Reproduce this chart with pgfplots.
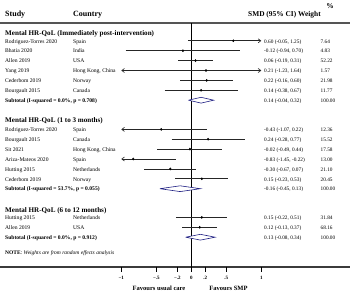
\documentclass[border=0pt]{standalone}
\usepackage{fontspec}
\setmainfont{Liberation Serif}
\usepackage{pgfplots}
\pgfplotsset{compat=1.18}
\usetikzlibrary{arrows.meta}
\definecolor{navy}{RGB}{30,30,130}
\definecolor{ruleg}{RGB}{85,85,85}

% estimates: y (pixel row), est
\pgfplotstableread{
y est
40.8 0.60
50.7 -0.12
60.6 0.06
70.5 0.21
80.4 0.22
90.3 0.14
129.4 -0.43
139.2 0.24
149.1 -0.02
159.0 -0.83
168.9 -0.30
178.8 0.15
217.4 0.15
227.3 0.12
}\estimates

\newcommand{\ci}[4][]{\addplot[ciline,#1] coordinates {(#3,#2) (#4,#2)};}
\newcommand{\dia}[4]{\addplot[navy, line width=0.6pt, fill=white, line join=miter] coordinates {(#2,#1) (#3,#1-2.9) (#4,#1) (#3,#1+2.9) (#2,#1)};}

\begin{document}
\begin{tikzpicture}
\begin{axis}[
 scale only axis, width=350pt, height=291pt,
 xmin=-2.7329, xmax=2.2671, ymin=0, ymax=291, y dir=reverse,
 hide axis, clip=false,
 ciline/.style={draw=black!85, line width=0.65pt},
]
% frame rules
\addplot[ruleg, line width=1.6pt] coordinates {(-2.7329,23.3) (2.2671,23.3)};
\addplot[ruleg!70!black, line width=1.6pt] coordinates {(-2.7329,266.7) (2.2671,266.7)};
% null line
\addplot[black, line width=0.8pt] coordinates {(0,23.3) (0,266.7)};
% ticks
\foreach \t in {-1,-0.5,-0.2,0,0.2,0.5,1}{
  \edef\temp{\noexpand\draw[black, line width=0.7pt] (axis cs:\t,266.7) -- (axis cs:\t,272.3);}
  \temp
}
% section 1
\ci[-{Straight Barb[length=2.6pt,width=4pt]}]{40.8}{-0.05}{1.0}
\ci{50.7}{-0.94}{0.70}
\ci{60.6}{-0.19}{0.31}
\ci[{Straight Barb[length=2.6pt,width=4pt]}-{Straight Barb[length=2.6pt,width=4pt]}]{70.5}{-1.0}{1.0}
\ci{80.4}{-0.16}{0.60}
\ci{90.3}{-0.38}{0.67}
\dia{100.2}{-0.04}{0.14}{0.32}
% section 2
\ci[{Straight Barb[length=2.6pt,width=4pt]}-]{129.4}{-1.0}{0.22}
\ci{139.2}{-0.28}{0.77}
\ci{149.1}{-0.49}{0.44}
\ci[{Straight Barb[length=2.6pt,width=4pt]}-]{159.0}{-1.0}{-0.22}
\ci{168.9}{-0.67}{0.07}
\ci{178.8}{-0.23}{0.53}
\dia{188.7}{-0.45}{-0.16}{0.13}
% section 3
\ci{217.4}{-0.22}{0.51}
\ci{227.3}{-0.13}{0.37}
\dia{237.2}{-0.08}{0.13}{0.34}
% point estimates
\addplot[only marks, mark=diamond*, mark size=1.1pt, black] table[x=est, y=y]{\estimates};
\end{axis}
\begin{scope}[x=1pt, y=-1pt, yshift=291pt,
  rt/.style={anchor=mid west, inner sep=0pt, font=\fontsize{5.6}{6}\selectfont},
  vt/.style={anchor=mid west, inner sep=0pt, font=\fontsize{5.3}{6}\selectfont},
  sub/.style={anchor=mid west, inner sep=0pt, font=\fontsize{5.6}{6}\selectfont\bfseries},
  sec/.style={anchor=mid west, inner sep=0pt, font=\fontsize{7.1}{8}\selectfont\bfseries},
  hd/.style={inner sep=0pt, font=\fontsize{8}{9}\selectfont\bfseries},
  tl/.style={anchor=mid, inner sep=0pt, font=\fontsize{5}{6}\selectfont\bfseries}]
\newcommand{\row}[5]{\node[rt] at (5,#1) {#2}; \node[rt] at (73,#1) {#3}; \node[vt] at (264,#1) {#4}; \node[vt] at (320.5,#1) {#5};}
% header
\node[hd, anchor=mid west] at (5,14) {Study};
\node[hd, anchor=mid west] at (73,14) {Country};
\node[inner sep=0pt, anchor=mid, font=\fontsize{7.4}{8}\selectfont\bfseries] at (330,6) {\%};
\node[inner sep=0pt, anchor=mid west, font=\fontsize{7.4}{8}\selectfont\bfseries] at (248,14) {SMD (95\% CI) Weight};
% section 1
\node[sec] at (5,33) {Mental HR-QoL (Immediately post-intervention)};
\row{40.8}{Rodriguez-Torres 2020}{Spain}{0.60 (-0.05, 1.25)}{7.64}
\row{50.7}{Bhatia 2020}{India}{-0.12 (-0.94, 0.70)}{4.83}
\row{60.6}{Allen 2019}{USA}{0.06 (-0.19, 0.31)}{52.22}
\row{70.5}{Yang 2019}{Hong Kong, China}{0.21 (-1.23, 1.64)}{1.57}
\row{80.4}{Cederbom 2019}{Norway}{0.22 (-0.16, 0.60)}{21.98}
\row{90.3}{Bourgault 2015}{Canada}{0.14 (-0.38, 0.67)}{11.77}
\node[sub] at (5,100.2) {Subtotal (I-squared = 0.0\%, p = 0.708)};
\node[vt] at (264,100.2) {0.14 (-0.04, 0.32)};
\node[vt] at (320.5,100.2) {100.00};
% section 2
\node[sec] at (5,120.7) {Mental HR-QoL (1 to 3 months)};
\row{129.4}{Rodriguez-Torres 2020}{Spain}{-0.43 (-1.07, 0.22)}{12.36}
\row{139.2}{Bourgault 2015}{Canada}{0.24 (-0.28, 0.77)}{15.52}
\row{149.1}{Sit 2021}{Hong Kong, China}{-0.02 (-0.49, 0.44)}{17.58}
\row{159.0}{Ariza-Mateos 2020}{Spain}{-0.83 (-1.45, -0.22)}{13.00}
\row{168.9}{Hutting 2015}{Netherlands}{-0.30 (-0.67, 0.07)}{21.10}
\row{178.8}{Cederbom 2019}{Norway}{0.15 (-0.23, 0.53)}{20.45}
\node[sub] at (5,188.7) {Subtotal (I-squared = 53.7\%, p = 0.055)};
\node[vt] at (264,188.7) {-0.16 (-0.45, 0.13)};
\node[vt] at (320.5,188.7) {100.00};
% section 3
\node[sec] at (5,210) {Mental HR-QoL (6 to 12 months)};
\row{217.4}{Hutting 2015}{Netherlands}{0.15 (-0.22, 0.51)}{31.84}
\row{227.3}{Allen 2019}{USA}{0.12 (-0.13, 0.37)}{68.16}
\node[sub] at (5,237.2) {Subtotal (I-squared = 0.0\%, p = 0.912)};
\node[vt] at (264,237.2) {0.13 (-0.08, 0.34)};
\node[vt] at (320.5,237.2) {100.00};
% note
\node[rt, font=\fontsize{5.5}{6}\selectfont] at (5,252.7) {\textbf{NOTE}: \textit{Weights are from random effects analysis}};
% tick labels
\node[tl] at (121.3,277.5) {−1};
\node[tl] at (156.3,277.5) {−.5};
\node[tl] at (177.3,277.5) {−.2};
\node[tl] at (191.3,277.5) {0};
\node[tl] at (205.3,277.5) {.2};
\node[tl] at (226.3,277.5) {.5};
\node[tl] at (261.3,277.5) {1};
\node[anchor=mid, inner sep=0pt, font=\fontsize{6.5}{7}\selectfont\bfseries] at (159,288) {Favours usual care};
\node[anchor=mid, inner sep=0pt, font=\fontsize{6.5}{7}\selectfont\bfseries] at (228.5,288) {Favours SMP};
\end{scope}
\pgfresetboundingbox
\path[use as bounding box] (0,0) rectangle (350pt,291pt);
\end{tikzpicture}
\end{document}
